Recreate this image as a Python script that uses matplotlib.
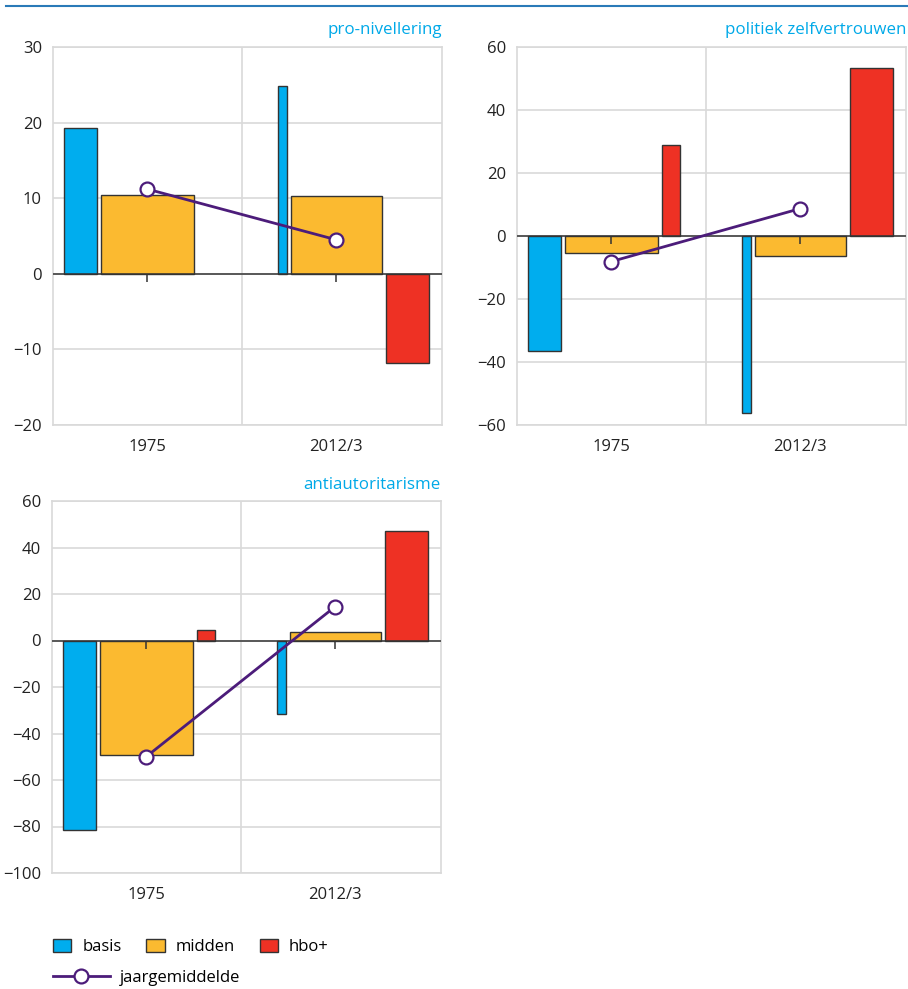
import numpy as np
import matplotlib
matplotlib.use("Agg")
import matplotlib.pyplot as plt
from matplotlib.patches import Patch
from matplotlib.lines import Line2D

plt.rcParams['font.family'] = ['Open Sans', 'DejaVu Sans']

# data
years = ["1975", "2012/3"]
groups = ["basis", "midden", "hbo+"]
# population share of each group per year (bar widths)
shares = {"1975": [0.23, 0.645, 0.125], "2012/3": [0.06, 0.63, 0.30]}

panels = ["pro-nivellering", "politiek zelfvertrouwen", "antiautoritarisme"]
values = {
    "pro-nivellering": {"1975": [19.3, 10.4, 0.0], "2012/3": [24.8, 10.3, -11.8]},
    "politiek zelfvertrouwen": {"1975": [-36.4, -5.5, 29.0], "2012/3": [-56.2, -6.3, 53.2]},
    "antiautoritarisme": {"1975": [-81.4, -49.3, 4.4], "2012/3": [-31.7, 3.6, 47.3]},
}
jaargemiddelde = {
    "pro-nivellering": [11.2, 4.5],
    "politiek zelfvertrouwen": [-8.1, 8.7],
    "antiautoritarisme": [-49.9, 14.6],
}
ylims = {
    "pro-nivellering": (-20, 30, 10),
    "politiek zelfvertrouwen": (-60, 60, 20),
    "antiautoritarisme": (-100, 60, 20),
}

colors = ["#00adee", "#fbba30", "#ee3124"]
purple = "#4c1c7a"
grid_c = "#d9d9d9"
dark = "#333333"
title_c = "#00a9e8"

W, H = 908, 989
fig = plt.figure(figsize=(W / 100, H / 100), dpi=100)

# axes boxes in pixels: left, top, right, bottom
boxes = [(53, 47, 442, 425), (517, 47, 906, 425), (52, 501, 441, 873)]

scale = 0.765
gap = 0.02

for name, (l, t, r, b) in zip(panels, boxes):
    ax = fig.add_axes([l / W, 1 - b / H, (r - l) / W, (b - t) / H])
    x = np.arange(len(years))
    for i, yr in enumerate(years):
        w = np.array(shares[yr]) * scale
        v = values[name][yr]
        # midden centred on the tick, basis left of it, hbo+ right of it
        cm = x[i]
        cb = cm - w[1] / 2 - gap - w[0] / 2
        ch = cm + w[1] / 2 + gap + w[2] / 2
        for c, wi, vi, col in zip([cb, cm, ch], w, v, colors):
            if vi != 0:
                ax.bar(c, vi, width=wi, color=col, edgecolor=dark, linewidth=1.0, zorder=3)
    ax.axhline(0, color=dark, lw=1.1, zorder=4)
    ax.plot(x, [0, 0], ls="none", marker=3, ms=6, mew=1.1, color=dark, zorder=5)
    ax.plot(x, jaargemiddelde[name], color=purple, lw=2, marker="o", ms=10,
            mfc="white", mec=purple, mew=1.6, zorder=6)

    lo, hi, st = ylims[name]
    ax.set_ylim(lo, hi)
    ax.set_yticks(np.arange(lo, hi + 1, st))
    ax.set_yticklabels([str(v).replace("-", "\u2212") for v in range(lo, hi + 1, st)])
    ax.set_xlim(-0.5, 1.56)
    ax.set_xticks(x)
    ax.set_xticklabels(years)
    ax.tick_params(axis="both", length=0, labelsize=12, colors="#222222")
    ax.tick_params(axis="x", pad=10)
    ax.tick_params(axis="y", pad=8)
    ax.grid(axis="y", color=grid_c, lw=1.2, zorder=0)
    ax.axvline(0.5, color=grid_c, lw=1.2, zorder=0)
    for s in ax.spines.values():
        s.set_color(grid_c)
        s.set_linewidth(1.2)
    ax.set_title(name, loc="right", color=title_c, fontsize=12.2, pad=9)

# top rule
fig.add_artist(Line2D([6 / W, 907 / W], [1 - 6 / H, 1 - 6 / H], color="#2a7ab8", lw=1.5))

# legend
bar_handles = [Patch(facecolor=c, edgecolor=dark, linewidth=1.0) for c in colors]
fig.legend(bar_handles, groups, loc="upper left", bbox_to_anchor=(38 / W, 1 - 924 / H),
           ncol=3, frameon=False, fontsize=12, handlelength=1.1, handleheight=0.8,
           handletextpad=0.65, columnspacing=1.5)
line_handle = Line2D([], [], color=purple, lw=2, marker="o", ms=10, mfc="white", mec=purple, mew=1.6)
fig.legend([line_handle], ["jaargemiddelde"], loc="upper left", bbox_to_anchor=(38 / W, 1 - 955 / H),
           frameon=False, fontsize=12, handlelength=3.4, handletextpad=0.6)

fig.savefig("out.png", dpi=100)
